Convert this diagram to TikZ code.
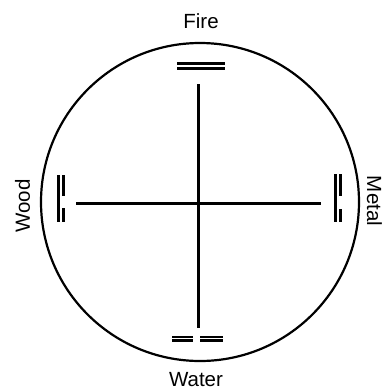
\documentclass[tikz,border=0pt]{standalone}
\usepackage{fontspec}
\setmainfont{Liberation Sans}
\usetikzlibrary{positioning}

\begin{document}
\begin{tikzpicture}[x=1pt, y=-1pt, line cap=butt,
  every node/.style={inner sep=0pt, font=\fontsize{20.5}{24}\selectfont},
  axis/.style={line width=3pt},
  bar/.style={line width=3pt}]
  \useasboundingbox (0,0) rectangle (384,389);
  \draw[line width=2.2pt] (200,202) circle[radius=159];
  % cross
  \coordinate (top) at (198,84);
  \coordinate (bottom) at (198,328);
  \coordinate (left) at (76,203);
  \coordinate (right) at (321,203);
  \draw[axis] (top) -- (bottom);
  \draw[axis] (left) -- (right);
  % fire
  \draw[bar] (177,63.5) -- (225,63.5) (177,68.8) -- (225,68.8);
  % water
  \draw[line width=2.4pt] (172,337) -- (193,337) (172,340.5) -- (193,340.5)
    (200,337) -- (223,337) (200,340.5) -- (223,340.5);
  % wood
  \draw[bar] (58,175) -- (58,222)
    (63,175) -- (63,196) (63,208) -- (63,222);
  % metal
  \draw[bar] (335,174) -- (335,222)
    (340,174) -- (340,196) (340,209) -- (340,222);
  % labels
  \node[anchor=base] (fire) at (201,28) {Fire};
  \node[anchor=base] (water) at (196,386) {Water};
  \node[anchor=base, rotate=90] (wood) at (30,206) {Wood};
  \node[anchor=base, rotate=-90] (metal) at (367,201) {Metal};
\end{tikzpicture}
\end{document}
